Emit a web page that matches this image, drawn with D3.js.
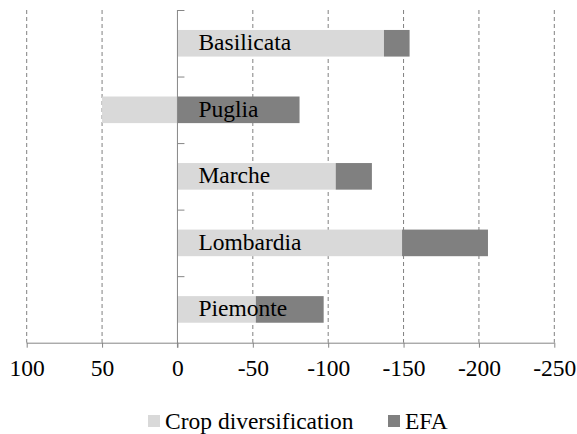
<!DOCTYPE html>
<html>
<head>
<meta charset="utf-8">
<script src="https://cdn.jsdelivr.net/npm/d3@7"></script>
<style>
  body { margin: 0; background: #fff; }
  text { font-family: "Liberation Serif", "Times New Roman", serif; fill: #000; }
</style>
</head>
<body>
<script>
// values
var regions = ["Basilicata", "Puglia", "Marche", "Lombardia", "Piemonte"];
var cropDiv = [-137, 50, -105, -149, -52];
var efa = [-17, -81, -24, -57, -45];
var xTicks = [100, 50, 0, -50, -100, -150, -200, -250];
var seriesNames = ["Crop diversification", "EFA"];
var seriesColours = ["#d9d9d9", "#808080"];

var width = 577, height = 434;
var margin = {top: 10, right: 22.7, bottom: 91.3, left: 26.7};
var fontSize = 23.5;

var svg = d3.select("body")
  .append("svg")
    .attr("width", width)
    .attr("height", height);

var x = d3.scaleLinear()
  .domain([100, -250])
  .range([margin.left, width - margin.right]);

var y = d3.scaleBand()
  .domain(regions)
  .range([margin.top, height - margin.bottom])
  .paddingInner(0.6)
  .paddingOuter(0.3);

var axisY = height - margin.bottom;

// table for the stack
var table = regions.map(function(r, i) {
  return {name: r, crop: cropDiv[i], efa: efa[i]};
});

var stacked = d3.stack()
  .keys(["crop", "efa"])
  .offset(d3.stackOffsetDiverging)(table);

// dashed gridlines
svg.append("g")
  .selectAll("line")
  .data(xTicks.filter(function(d) { return d !== 0; }))
  .enter()
    .append("line")
      .attr("x1", function(d) { return x(d); })
      .attr("x2", function(d) { return x(d); })
      .attr("y1", margin.top)
      .attr("y2", axisY)
      .attr("stroke", "#808080")
      .attr("stroke-width", 1)
      .attr("stroke-dasharray", "4,3");

// bars
svg.append("g")
  .selectAll("g")
  .data(stacked)
  .enter()
    .append("g")
      .attr("fill", function(d, i) { return seriesColours[i]; })
    .selectAll("rect")
    .data(function(d) { return d; })
    .enter()
      .append("rect")
        .attr("x", function(d) { return Math.min(x(d[0]), x(d[1])); })
        .attr("width", function(d) { return Math.abs(x(d[1]) - x(d[0])); })
        .attr("y", function(d) { return y(d.data.name); })
        .attr("height", y.bandwidth());

// x axis
var xAxis = d3.axisBottom(x)
  .tickValues(xTicks)
  .tickSize(5)
  .tickPadding(12)
  .tickFormat(d3.format("d"));

var gx = svg.append("g")
  .attr("transform", "translate(0," + axisY + ")")
  .call(xAxis);

gx.select(".domain").attr("stroke", "#868686").attr("d", "M" + x(100) + ",0.5H" + x(-250));
gx.selectAll(".tick line").attr("stroke", "#868686");
gx.selectAll(".tick text")
  .attr("font-size", fontSize)
  .attr("font-family", "Liberation Serif")
  .text(function(d) { return String(d); });

// category axis at zero, ticks between the bands pointing right
var zx = x(0);
var boundaries = d3.range(regions.length).map(function(i) {
  return y.range()[0] + i * y.step();
});

var gy = svg.append("g");
gy.append("line")
  .attr("x1", zx).attr("x2", zx)
  .attr("y1", margin.top).attr("y2", axisY + 5)
  .attr("stroke", "#868686");
gy.selectAll("line.tick")
  .data(boundaries)
  .enter()
    .append("line")
      .attr("class", "tick")
      .attr("x1", zx).attr("x2", zx + 7)
      .attr("y1", function(d) { return d + 0.5; })
      .attr("y2", function(d) { return d + 0.5; })
      .attr("stroke", "#868686");

// region labels sit over the bars
svg.append("g")
  .selectAll("text")
  .data(regions)
  .enter()
    .append("text")
      .attr("x", zx + 21)
      .attr("y", function(d) { return y(d) + y.bandwidth() / 2; })
      .attr("dy", "0.3em")
      .attr("font-size", fontSize)
      .text(function(d) { return d; });

// legend
var legend = svg.append("g");
var legendPos = [148, 388];
seriesNames.forEach(function(name, i) {
  legend.append("rect")
    .attr("x", legendPos[i])
    .attr("y", 415)
    .attr("width", 12)
    .attr("height", 12)
    .attr("fill", seriesColours[i]);
  legend.append("text")
    .attr("x", legendPos[i] + 17)
    .attr("y", 429)
    .attr("font-size", fontSize)
    .text(name);
});
</script>
</body>
</html>
